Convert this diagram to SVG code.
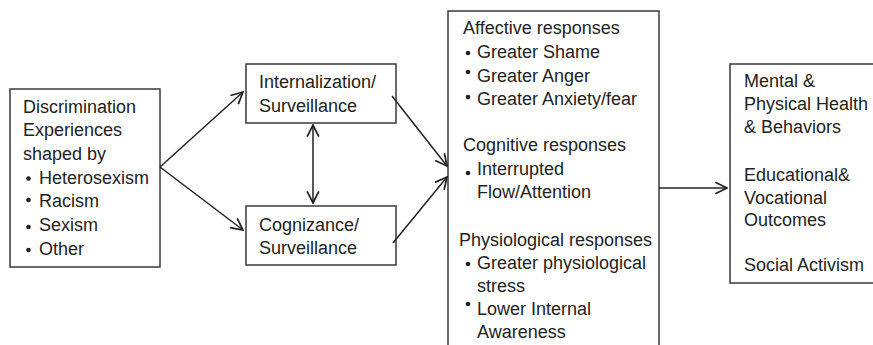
<svg xmlns="http://www.w3.org/2000/svg" width="873" height="345" viewBox="0 0 873 345">
<defs>
<style>
.box{fill:#fff;stroke:#3a3a3a;stroke-width:1.5}
.t{font-family:"Liberation Sans",Arial,sans-serif;font-size:18px;fill:#222}
.b{fill:#222}
.c{stroke:#222;stroke-width:1.5;fill:none}
</style>
<marker id="ah" markerUnits="userSpaceOnUse" markerWidth="14" markerHeight="14" viewBox="0 0 12 12" refX="11" refY="6" orient="auto-start-reverse">
<path d="M1,1 L11,6 L1,11" fill="none" stroke="#222" stroke-width="1.5"/>
</marker>
</defs>
<rect width="873" height="345" fill="#fff"/>
<g id="discrimination">
<rect class="box" x="10" y="89" width="150" height="178"/>
<text class="t" x="23" y="113">Discrimination</text>
<text class="t" x="23" y="136">Experiences</text>
<text class="t" x="23" y="160">shaped by</text>
<circle class="b" cx="28.5" cy="178.5" r="2.3"/><text class="t" x="39" y="184">Heterosexism</text>
<circle class="b" cx="28.5" cy="200" r="2.3"/><text class="t" x="39" y="207">Racism</text>
<circle class="b" cx="28.5" cy="227" r="2.3"/><text class="t" x="39" y="231">Sexism</text>
<circle class="b" cx="28.5" cy="250" r="2.3"/><text class="t" x="39" y="255">Other</text>
</g>
<g id="internalization">
<rect class="box" x="246" y="64" width="150" height="59"/>
<text class="t" x="259" y="88">Internalization/</text>
<text class="t" x="259" y="112">Surveillance</text>
</g>
<g id="cognizance">
<rect class="box" x="246" y="206" width="150" height="59"/>
<text class="t" x="259" y="231">Cognizance/</text>
<text class="t" x="259" y="254">Surveillance</text>
</g>
<g id="responses">
<rect class="box" x="448" y="11" width="211" height="350"/>
<text class="t" x="463" y="34">Affective responses</text>
<circle class="b" cx="468" cy="53" r="2.3"/><text class="t" x="477" y="58">Greater Shame</text>
<circle class="b" cx="468" cy="72" r="2.3"/><text class="t" x="477" y="82">Greater Anger</text>
<circle class="b" cx="468" cy="97" r="2.3"/><text class="t" x="477" y="105">Greater Anxiety/fear</text>
<text class="t" x="463" y="151">Cognitive responses</text>
<circle class="b" cx="468" cy="173" r="2.3"/><text class="t" x="477" y="175">Interrupted</text>
<text class="t" x="477" y="198">Flow/Attention</text>
<text class="t" x="459" y="246">Physiological responses</text>
<circle class="b" cx="468" cy="264" r="2.3"/><text class="t" x="477" y="269">Greater physiological</text>
<text class="t" x="477" y="292">stress</text>
<circle class="b" cx="468" cy="304" r="2.3"/><text class="t" x="477" y="315">Lower Internal</text>
<text class="t" x="477" y="338">Awareness</text>
</g>
<g id="outcomes">
<rect class="box" x="730" y="64" width="160" height="219"/>
<text class="t" x="744" y="87">Mental &amp;</text>
<text class="t" x="744" y="110">Physical Health</text>
<text class="t" x="744" y="133">&amp; Behaviors</text>
<text class="t" x="744" y="181">Educational&amp;</text>
<text class="t" x="744" y="204">Vocational</text>
<text class="t" x="744" y="226">Outcomes</text>
<text class="t" x="744" y="271">Social Activism</text>
</g>
<g id="connectors">
<line class="c" x1="160" y1="167" x2="243" y2="92" marker-end="url(#ah)"/>
<line class="c" x1="160" y1="167" x2="243" y2="230" marker-end="url(#ah)"/>
<line class="c" x1="313" y1="125" x2="313" y2="203" marker-start="url(#ah)" marker-end="url(#ah)"/>
<line class="c" x1="392" y1="96" x2="447" y2="166" marker-end="url(#ah)"/>
<line class="c" x1="393" y1="243" x2="447" y2="177" marker-end="url(#ah)"/>
<line class="c" x1="659" y1="188" x2="727" y2="188" marker-end="url(#ah)"/>
</g>
</svg>
